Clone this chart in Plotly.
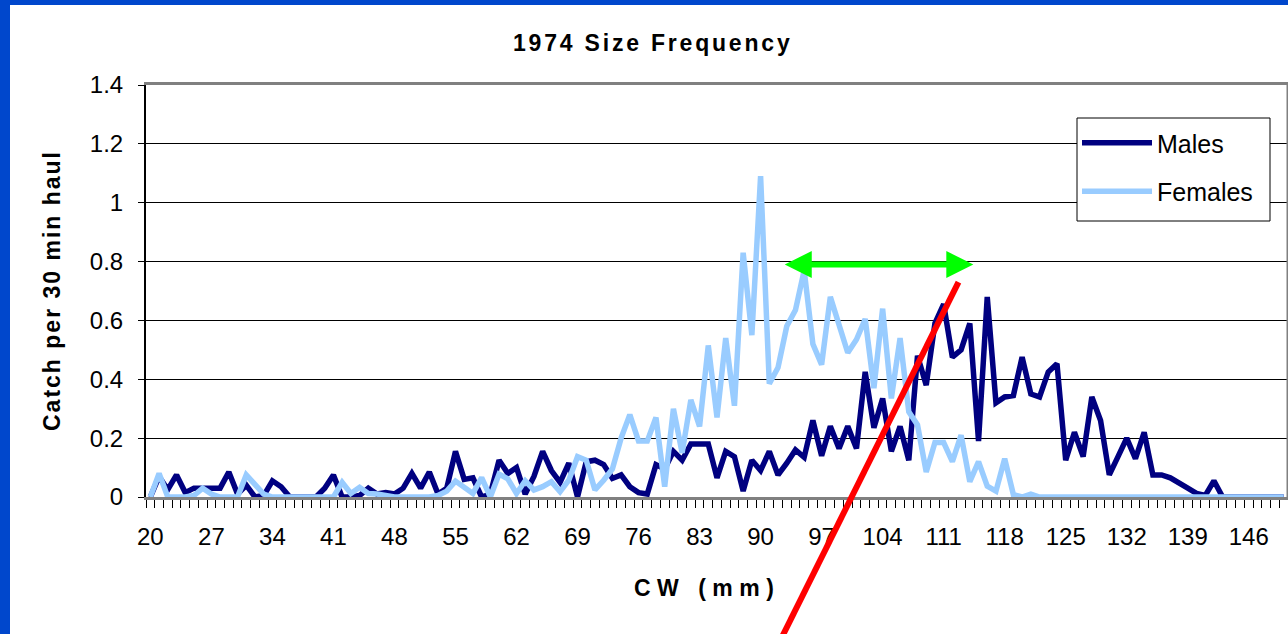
import plotly.graph_objects as go

# ---------------- data ----------------
cw = list(range(20, 151))

males = [
    0.0, 0.07, 0.025, 0.075, 0.015, 0.03, 0.03, 0.03, 0.03, 0.085,      # 20-29
    0.01, 0.04, 0.0, 0.005, 0.055, 0.035, 0.0, 0.0, 0.0, 0.0,           # 30-39
    0.03, 0.075, 0.0, 0.0, 0.005, 0.03, 0.01, 0.015, 0.01, 0.03,        # 40-49
    0.08, 0.03, 0.085, 0.01, 0.03, 0.155, 0.06, 0.065, 0.0, 0.01,       # 50-59
    0.125, 0.08, 0.1, 0.01, 0.07, 0.155, 0.09, 0.05, 0.115, 0.0,        # 60-69
    0.12, 0.125, 0.11, 0.063, 0.075, 0.035, 0.015, 0.01, 0.11, 0.095,   # 70-79
    0.155, 0.125, 0.18, 0.18, 0.18, 0.065, 0.155, 0.137, 0.02, 0.125,   # 80-89
    0.09, 0.155, 0.075, 0.115, 0.16, 0.135, 0.26, 0.14, 0.24, 0.165,    # 90-99
    0.24, 0.165, 0.425, 0.235, 0.335, 0.155, 0.24, 0.125, 0.48, 0.38,   # 100-109
    0.59, 0.655, 0.475, 0.5, 0.59, 0.19, 0.68, 0.32, 0.34, 0.345,       # 110-119
    0.475, 0.35, 0.34, 0.425, 0.453, 0.125, 0.22, 0.137, 0.34, 0.26,    # 120-129
    0.075, 0.137, 0.2, 0.13, 0.22, 0.075, 0.075, 0.065, 0.05, 0.03,     # 130-139
    0.012, 0.005, 0.055, 0.0, 0.0, 0.0, 0.0, 0.0, 0.0, 0.0,             # 140-149
    0.0,                                                                # 150
]

females = [
    0.0, 0.08, 0.0, 0.0, 0.0, 0.005, 0.03, 0.01, 0.0, 0.0,              # 20-29
    0.0, 0.075, 0.045, 0.01, 0.0, 0.0, 0.0, 0.0, 0.0, 0.0,              # 30-39
    0.0, 0.0, 0.05, 0.012, 0.033, 0.012, 0.01, 0.004, 0.0, 0.0,         # 40-49
    0.0, 0.0, 0.0, 0.005, 0.02, 0.054, 0.035, 0.012, 0.066, 0.0,        # 50-59
    0.078, 0.062, 0.012, 0.055, 0.024, 0.035, 0.052, 0.018, 0.057, 0.137,  # 60-69
    0.125, 0.024, 0.057, 0.095, 0.2, 0.28, 0.19, 0.19, 0.27, 0.035,     # 70-79
    0.3, 0.15, 0.33, 0.24, 0.515, 0.27, 0.54, 0.31, 0.83, 0.55,         # 80-89
    1.09, 0.385, 0.44, 0.58, 0.635, 0.77, 0.52, 0.45, 0.68, 0.58,       # 90-99
    0.49, 0.535, 0.605, 0.37, 0.64, 0.335, 0.54, 0.29, 0.245, 0.085,    # 100-109
    0.185, 0.185, 0.12, 0.21, 0.052, 0.12, 0.037, 0.02, 0.13, 0.008,    # 110-119
    0.0, 0.01, 0.0, 0.0, 0.0, 0.0, 0.0, 0.0, 0.0, 0.0,                  # 120-129
    0.0, 0.0, 0.0, 0.0, 0.0, 0.0, 0.0, 0.0, 0.0, 0.0,                   # 130-139
    0.0, 0.0, 0.0, 0.0, 0.0, 0.0, 0.0, 0.0, 0.0, 0.0,                   # 140-149
    0.0,                                                                # 150
]

x_tick_vals = list(range(20, 147, 7))
x_tick_text = [str(v) for v in x_tick_vals]

# annotation positions (data units)
arrow_left, arrow_right, arrow_y = 92.6, 114.4, 0.79
red_bottom = (92.3, -0.485)
red_top = (112.7, 0.73)

# ---------------- layout geometry ----------------
W, H = 1288, 634
L, R, T, B = 146, 0, 85, 137
X_RANGE = [19.5, 150.5]
Y_RANGE = [0, 1.4]
FONT = "Arial, Liberation Sans, sans-serif"


def px(xpix):
    return (xpix - L) / (W - L - R)


def py(ypix):
    return (H - B - ypix) / (H - T - B)


def dx(c):
    return (c - X_RANGE[0]) / (X_RANGE[1] - X_RANGE[0])


def dy(v):
    return (v - Y_RANGE[0]) / (Y_RANGE[1] - Y_RANGE[0])


def spaced(text, sp):
    return f'<span style="letter-spacing:{sp}px">{text}</span>'


fig = go.Figure()
fig.add_trace(go.Scatter(x=cw, y=males, mode="lines", name="Males",
                         legendgroup="m",
                         line=dict(color="#000080", width=5.5)))
fig.add_trace(go.Scatter(x=cw, y=females, mode="lines", name="Females",
                         legendgroup="f",
                         line=dict(color="#99CCFF", width=5.5)))

shapes = [
    # right border of plot area
    dict(type="line", xref="paper", yref="paper", x0=1, x1=1, y0=0, y1=1,
         line=dict(color="#808080", width=3)),
    # legend box
    dict(type="rect", xref="paper", yref="paper", x0=px(1077), x1=px(1270),
         y0=py(221), y1=py(118), fillcolor="white",
         line=dict(color="black", width=1)),
    # blue frame
    dict(type="rect", xref="paper", yref="paper", x0=px(-5), x1=px(10),
         y0=py(H + 5), y1=py(-5), fillcolor="#0047CC", line=dict(width=0)),
    dict(type="rect", xref="paper", yref="paper", x0=px(-5), x1=px(W + 5),
         y0=py(5), y1=py(-5), fillcolor="#0047CC", line=dict(width=0)),
    # red line
    dict(type="line", xref="paper", yref="paper",
         x0=dx(red_bottom[0]), y0=dy(red_bottom[1]),
         x1=dx(red_top[0]), y1=dy(red_top[1]),
         line=dict(color="#FF0000", width=6)),
]

annotations = [
    dict(text=spaced("1974 Size Frequency", 2.8), xref="paper", yref="paper",
         x=px(652), y=py(43), xanchor="center", yanchor="middle",
         showarrow=False,
         font=dict(family=FONT, size=23, color="black", weight="bold")),
    dict(text=spaced("Catch per 30 min haul", 2.0), xref="paper", yref="paper",
         x=px(52), y=py(291), xanchor="center", yanchor="middle",
         showarrow=False, textangle=-90,
         font=dict(family=FONT, size=23, color="black", weight="bold")),
    dict(text=spaced("CW (mm)", 6.5), xref="paper", yref="paper",
         x=px(707), y=py(588), xanchor="center", yanchor="middle",
         showarrow=False,
         font=dict(family=FONT, size=23, color="black", weight="bold")),
    dict(text="", x=arrow_right, y=arrow_y, xref="x", yref="y",
         ax=arrow_left, ay=arrow_y, axref="x", ayref="y",
         showarrow=True, arrowhead=2, arrowsize=0.9, arrowwidth=6,
         arrowside="end+start", startarrowhead=2, startarrowsize=0.9,
         arrowcolor="#00FF00"),
]

fig.update_layout(
    width=W, height=H,
    margin=dict(l=L, r=R, t=T, b=B, pad=0),
    paper_bgcolor="white", plot_bgcolor="white",
    font=dict(family=FONT, size=24, color="black"),
    showlegend=True,
    legend=dict(x=px(1077), y=py(120), xanchor="left", yanchor="top",
                bgcolor="rgba(0,0,0,0)", borderwidth=0,
                font=dict(family=FONT, size=25, color="black"),
                itemwidth=70, tracegroupgap=13, traceorder="grouped"),
    shapes=shapes,
    annotations=annotations,
    xaxis=dict(range=X_RANGE, tickmode="array", tickvals=x_tick_vals,
               ticktext=x_tick_text, ticks="", showgrid=False, zeroline=False,
               showline=True, linecolor="#808080", linewidth=3, mirror=True,
               tickfont=dict(family=FONT, size=24, color="black"),
               ticklabelstandoff=16,
               minor=dict(ticks="outside", ticklen=8, tickwidth=1,
                          tickcolor="black", tick0=19.5, dtick=1,
                          showgrid=False)),
    yaxis=dict(range=Y_RANGE, tick0=0, dtick=0.2, ticks="outside", ticklen=6,
               tickwidth=1, tickcolor="black", showline=True,
               linecolor="black", linewidth=2, showgrid=True,
               gridcolor="#000000", gridwidth=1, zeroline=False,
               tickfont=dict(family=FONT, size=24, color="black"),
               ticklabelstandoff=10),
)

fig.write_html("out.html", config={"displayModeBar": False},
               post_script="document.body.style.margin='0px';"
                           "document.body.style.overflow='hidden';")
